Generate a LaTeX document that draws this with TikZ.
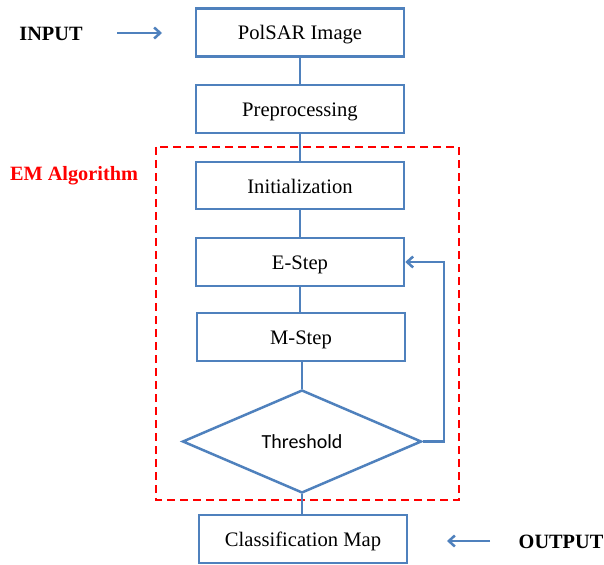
\documentclass[tikz,border=0pt]{standalone}
\usepackage{fontspec}
\setmainfont{Liberation Serif}
\newfontfamily\calibrifont{Carlito}
\usetikzlibrary{shapes.geometric,arrows.meta}
\definecolor{flowblue}{RGB}{79,129,189}
\begin{document}
\begin{tikzpicture}[x=1pt,y=-1pt,
  font=\fontsize{20.6}{24}\selectfont,
  stepbox/.style={draw=flowblue,line width=2.5pt,minimum width=208pt,minimum height=48pt,inner sep=0pt,fill=white,text height=15pt,text depth=0pt},
  decision/.style={diamond,draw=flowblue,line width=2.5pt,aspect=2.32,minimum width=239pt,minimum height=103pt,inner sep=0pt,font=\calibrifont\fontsize{20}{24}\selectfont},
  link/.style={draw=flowblue,line width=2.5pt},
  ioarrow/.style={draw=flowblue,line width=2.5pt,-{Straight Barb[length=6pt,width=11pt]}},
  iolabel/.style={font=\bfseries\fontsize{20.3}{24}\selectfont}]
\fill[white] (0,0) rectangle (604,564);
\useasboundingbox (0,0) rectangle (604,564);

\draw[red,line width=2.4pt,dash pattern=on 8pt off 5pt] (156,147) rectangle (459,500);
\node[font=\bfseries\fontsize{20.3}{24}\selectfont,text=red] (emlabel) at (74,176) {EM Algorithm};

\node[stepbox] (pol) at (300,32.5) {PolSAR Image};
\node[stepbox] (pre) at (300,109) {Preprocessing};
\node[stepbox,minimum height=47pt] (ini) at (300,185.5) {Initialization};
\node[stepbox] (es) at (300,262) {E-Step};
\node[stepbox] (ms) at (301,337) {M-Step};
\node[decision] (th) at (302,441.5) {Threshold};
\node[stepbox] (cm) at (303,539) {Classification Map};

\draw[link] (pol.south) -- (pol.south |- pre.north);
\draw[link] (pre.south) -- (pre.south |- ini.north);
\draw[link] (ini.south) -- (ini.south |- es.north);
\draw[link] (es.south) -- (es.south |- ms.north);
\draw[link] (th.north |- ms.south) -- (th.north);
\draw[link] (th.south) -- (th.south |- cm.north);
\draw[link,-{Straight Barb[length=6pt,width=11pt]}] (th.east) -- ([xshift=21pt]th.east) |- (es.east);

\node[iolabel] (input) at (51,34) {INPUT};
\coordinate (ina) at (117,33);
\coordinate (inb) at (162,33);
\draw[ioarrow] (ina) -- (inb);

\node[iolabel] (output) at (561,542) {OUTPUT};
\coordinate (outa) at (490,541);
\coordinate (outb) at (447,541);
\draw[ioarrow] (outa) -- (outb);
\end{tikzpicture}
\end{document}
